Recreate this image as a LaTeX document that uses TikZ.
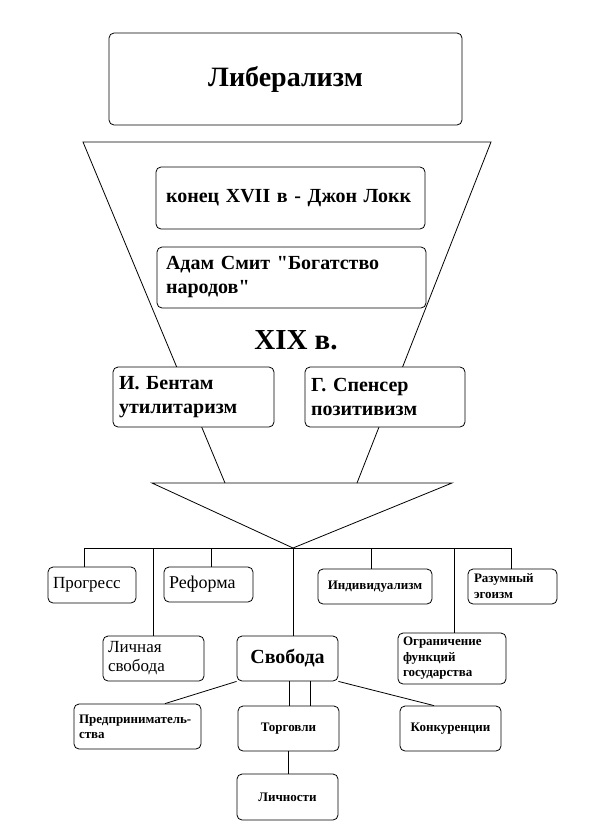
\documentclass[tikz,border=0pt]{standalone}
\usepackage{fontspec}
\setmainfont{Liberation Serif}[Ligatures=TeXOff]
\newcommand{\fsz}[2]{\fontsize{#1}{#2}\selectfont}

\begin{document}
\begin{tikzpicture}[x=1pt,y=-1pt,line width=.8pt]

        \useasboundingbox (0,0) rectangle (606,836);

        % funnel
        \coordinate (ftl) at (83,142);
        \coordinate (ftr) at (491,142);
        \coordinate (fbl) at (225,483);
        \coordinate (fbr) at (357,483);
        \coordinate (tl)  at (152,483);
        \coordinate (tr)  at (452,483);
        \coordinate (apex) at (293,548);
        \draw (fbl) -- (ftl) -- (ftr) -- (fbr);
        \draw (tl) -- (tr) -- (apex) -- cycle;

        % bus
        \coordinate (b1) at (84,548);
        \coordinate (b2) at (153,548);
        \coordinate (b3) at (211,548);
        \coordinate (b4) at (371,548);
        \coordinate (b5) at (454,548);
        \coordinate (b6) at (511,548);
        \draw (b1) -- (b6);

        \begin{scope}[every node/.style={draw, fill=white, rounded corners=5pt, inner ysep=0pt, inner xsep=5pt}]
          \node[text width=343pt, minimum height=92pt, align=center, font=\bfseries\fsz{28}{32}] (lib) at (285.5,79) {Либерализм\hspace*{14pt}};
          \node[text width=249pt, inner xsep=10pt, minimum height=62pt, align=left, font=\bfseries\fsz{20}{24}] (locke) at (290.5,198) {конец XVII в - Джон Локк};
          \node[text width=251pt, inner xsep=9pt, minimum height=61pt, align=left, font=\bfseries\fsz{20}{24}] (smith) at (291.5,277.5) {Адам Смит "Богатство\\народов"};
          \node[text width=149pt, inner xsep=6pt, minimum height=60pt, align=left, font=\bfseries\fsz{20}{24}] (bent) at (193.5,397) {И. Бентам\\утилитаризм};
          \node[text width=148pt, inner xsep=6pt, minimum height=60pt, align=left, font=\bfseries\fsz{20}{24}] (spen) at (385,397) {Г. Спенсер\\позитивизм};

          \node[text width=78pt, minimum height=36pt, align=left, font=\fsz{17}{20}] (prog) at (92,585) {Прогресс};
          \node[text width=79pt, minimum height=35pt, align=left, font=\fsz{18}{20}] (ref) at (208.5,584.5) {Реформа};
          \node[text width=104pt, minimum height=35pt, align=center, font=\bfseries\fsz{13}{16}] (ind) at (375,586.5) {Индивидуализм};
          \node[text width=77pt, inner xsep=6pt, minimum height=35pt, align=left, font=\bfseries\fsz{13}{16}] (raz) at (512.5,586.5) {Разумный\\эгоизм};

          \node[text width=91pt, minimum height=45pt, align=left, font=\fsz{17}{19}] (lsv) at (153.5,658.5) {Личная\\свобода};
          \node[text width=91pt, minimum height=45pt, align=center, font=\bfseries\fsz{20}{24}] (svob) at (287.5,658.5) {Свобода};
          \node[text width=98pt, minimum height=51pt, align=left, font=\bfseries\fsz{13}{15.5}] (ogr) at (452,658.5) {Ограничение\\функций\\государства};

          \node[text width=117pt, minimum height=45pt, align=left, font=\bfseries\fsz{13}{15}] (pred) at (137.5,726.5) {Предприниматель-\\ства};
          \node[text width=91pt, minimum height=45pt, align=center, font=\bfseries\fsz{13}{16}] (torg) at (288.5,728.5) {Торговли};
          \node[text width=91pt, minimum height=45pt, align=center, font=\bfseries\fsz{13}{16}] (konk) at (450.5,728.5) {Конкуренции};
          \node[text width=91pt, minimum height=46pt, align=center, font=\bfseries\fsz{13}{16}] (lichn) at (287.5,797) {Личности};
        \end{scope}

        \node[font=\bfseries\fsz{29}{32}] (xix) at (296,340) {XIX в.};

        % drops from the bus
        \draw (b1) -- (b1 |- prog.north);
        \draw (b2) -- (b2 |- lsv.north);
        \draw (b3) -- (b3 |- ref.north);
        \draw (apex) -- (apex |- svob.north);
        \draw (b4) -- (b4 |- ind.north);
        \draw (b5) -- (b5 |- ogr.north);
        \draw (b6) -- (b6 |- raz.north);

        % below Svoboda
        \draw (svob.south west) -- ([xshift=27.5pt]pred.north);
        \draw (svob.south east) -- ([xshift=-16.5pt]konk.north);
        \draw ([xshift=1.5pt]svob.south) -- ([xshift=.5pt]torg.north);
        \draw ([xshift=22.5pt]svob.south) -- ([xshift=21.5pt]torg.north);
        \draw (torg.south) -- (torg.south |- lichn.north);

      \end{tikzpicture}
\end{document}
